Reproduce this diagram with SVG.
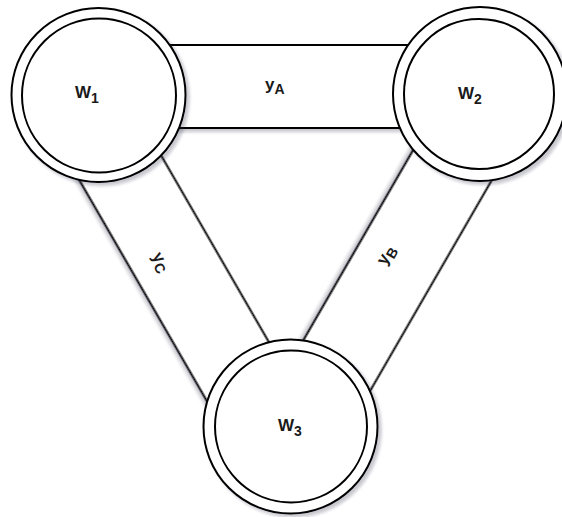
<svg xmlns="http://www.w3.org/2000/svg" width="562" height="517" viewBox="0 0 562 517">
  <style>
    .bar { fill: #ffffff; stroke: #000000; stroke-width: 2; filter: url(#shadow); }
    .outer { fill: #ffffff; stroke: #000000; stroke-width: 2; filter: url(#shadow); }
    .inner { fill: #ffffff; stroke: #000000; stroke-width: 2; }
    .label { font-family: "Liberation Sans", Arial, sans-serif; font-size: 17px; font-weight: bold; fill: #1a1a1a; }
    .sub { font-size: 14px; }
  </style>
  <defs>
    <filter id="shadow" x="-10%" y="-10%" width="130%" height="130%">
      <feDropShadow dx="3" dy="3" stdDeviation="1.7" flood-color="#202040" flood-opacity="0.25"/>
    </filter>
  </defs>

  <!-- links between nodes -->
  <g id="connectors">
    <g id="link-A">
      <rect class="bar" x="150" y="45" width="280" height="83"/>
      <text class="label" x="265" y="90">y<tspan class="sub" dy="4">A</tspan></text>
    </g>
    <g id="link-C">
      <rect class="bar" x="-180" y="-41.5" width="380" height="83" transform="translate(173.5 260) rotate(60)"/>
      <text class="label" text-anchor="middle" transform="translate(161 262) rotate(60)" dy="5">y<tspan class="sub" dy="4">C</tspan></text>
    </g>
    <g id="link-B">
      <rect class="bar" x="-185" y="-41.5" width="383" height="83" transform="translate(397.7 260) rotate(120)"/>
      <text class="label" text-anchor="middle" transform="translate(386 255) rotate(-60)" dy="5">y<tspan class="sub" dy="4">B</tspan></text>
    </g>
  </g>

  <!-- nodes -->
  <g id="node-w1">
    <circle class="outer" cx="98.5" cy="95" r="87"/>
    <circle class="inner" cx="99" cy="95.5" r="77"/>
    <text class="label" x="75" y="98">W<tspan class="sub" dy="5">1</tspan></text>
  </g>
  <g id="node-w2">
    <circle class="outer" cx="480" cy="94" r="87"/>
    <circle class="inner" cx="479" cy="94" r="75"/>
    <text class="label" x="458" y="99">W<tspan class="sub" dy="5">2</tspan></text>
  </g>
  <g id="node-w3">
    <circle class="outer" cx="290.5" cy="426.5" r="87"/>
    <circle class="inner" cx="291" cy="426.5" r="76"/>
    <text class="label" x="278" y="431">W<tspan class="sub" dy="5">3</tspan></text>
  </g>
</svg>
